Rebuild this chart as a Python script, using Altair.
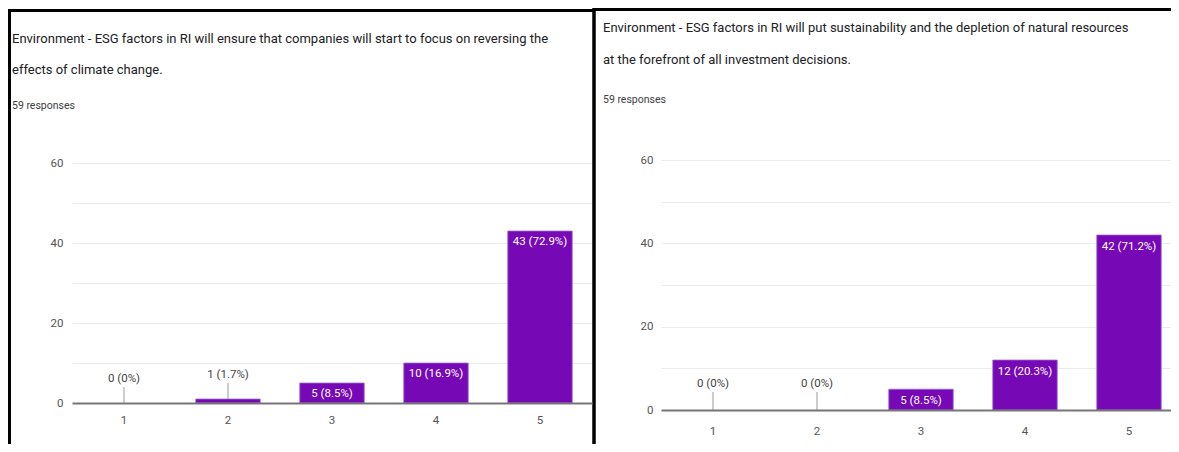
import altair as alt
import pandas as pd

# ---------------- data ----------------
categories = ["1", "2", "3", "4", "5"]

left_counts = [0, 1, 5, 10, 43]
left_labels = ["0 (0%)", "1 (1.7%)", "5 (8.5%)", "10 (16.9%)", "43 (72.9%)"]
left_title = [
    "Environment - ESG factors in RI will ensure that companies will start to focus on reversing the",
    "effects of climate change.",
]

right_counts = [0, 0, 5, 12, 42]
right_labels = ["0 (0%)", "0 (0%)", "5 (8.5%)", "12 (20.3%)", "42 (71.2%)"]
right_title = [
    "Environment - ESG factors in RI will put sustainability and the depletion of natural resources",
    "at the forefront of all investment decisions.",
]

responses_text = "59 responses"
y_tick_values = [0, 10, 20, 30, 40, 50, 60]
y_domain = [0, 60]

# ---------------- style ----------------
W, H = 1163, 436
PURPLE = "#7608b6"
NARROW = "Liberation Sans Narrow, Roboto, sans-serif"
SANS = "Roboto, sans-serif"


def make_panel(counts, labels, x_range, y_range, x_off, y_off, x_pad, y_pad, in_dy, out_dy, lead):
    df = pd.DataFrame({"answer": categories, "count": counts, "label": labels})
    x_enc = alt.X(
        "answer:N",
        sort=categories,
        scale=alt.Scale(domain=categories, range=x_range, paddingInner=0.38, paddingOuter=0.19),
        axis=alt.Axis(
            orient="bottom", offset=x_off, title=None, labelAngle=0, ticks=False, grid=False,
            domainColor="#767676", domainWidth=2, labelFont=NARROW, labelFontSize=11.5,
            labelColor="#555555", labelPadding=x_pad, zindex=1,
        ),
    )
    y_enc = alt.Y(
        "count:Q",
        scale=alt.Scale(domain=y_domain, range=y_range, nice=False, zero=True),
        axis=alt.Axis(
            orient="left", offset=y_off, title=None, values=y_tick_values,
            labelExpr="datum.value % 20 == 0 ? datum.label : ''",
            ticks=False, domain=False, grid=True, gridColor="#ebebeb", gridWidth=1,
            labelFont=NARROW, labelFontSize=11.5, labelColor="#555555", labelPadding=y_pad,
        ),
    )
    xs = alt.X("answer:N", sort=categories)
    ys = alt.Y("count:Q")
    base = alt.Chart(df)
    bars = (
        base.mark_bar(color=PURPLE, stroke="#a06cd5", strokeWidth=0.8)
        .encode(x=x_enc, y=y_enc)
        .transform_filter("datum.count > 0")
    )
    leaders = (
        base.mark_rule(color="#9a9a9a", strokeWidth=1, y2Offset=-lead)
        .encode(x=xs, y=ys, y2=alt.Y2("count"))
        .transform_filter("datum.count < 3")
    )
    text_in = (
        base.mark_text(dy=in_dy, baseline="middle", font=NARROW, fontSize=11.5, color="white")
        .encode(x=xs, y=ys, text="label:N")
        .transform_filter("datum.count >= 3")
    )
    text_out = (
        base.mark_text(dy=out_dy, baseline="middle", font=NARROW, fontSize=11.5, color="#444444")
        .encode(x=xs, y=ys, text="label:N")
        .transform_filter("datum.count < 3")
    )
    return alt.layer(bars, leaders, text_in, text_out)


left_panel = make_panel(left_counts, left_labels, [64, 584], [395, 155], -41, -64, 11, 9, 11, -24, 16)
right_panel = make_panel(right_counts, right_labels, [653, 1173], [402, 152], -34, -653, 15, 8, 12, -26, 18)

one = alt.Data(values=[{}])


def title_text(lines, x, y, lh):
    return alt.Chart(one).mark_text(
        text=lines, align="left", baseline="middle", font=SANS, fontSize=13,
        lineHeight=lh, color="#202124",
    ).encode(x=alt.value(x), y=alt.value(y))


def sub_text(txt, x, y):
    return alt.Chart(one).mark_text(
        text=txt, align="left", baseline="middle", font=SANS, fontSize=10.5, color="#3c4043",
    ).encode(x=alt.value(x), y=alt.value(y))


def border(x1, x2, y1, y2, w=3):
    return alt.Chart(one).mark_rule(color="black", strokeWidth=w).encode(
        x=alt.value(x1), x2=alt.value(x2), y=alt.value(y1), y2=alt.value(y2)
    )


decos = [
    title_text(left_title, 4, 31, 31),
    sub_text(responses_text, 4, 98),
    title_text(right_title, 595, 20, 32),
    sub_text(responses_text, 595, 92),
    border(1.5, 1.5, 2, H),
    border(0, 586, 2.5, 2.5),
    border(586, 586, 0, H, 3.5),
    border(586, W, 1.5, 1.5),
]

chart = (
    alt.layer(left_panel, right_panel, *decos)
    .resolve_scale(x="independent", y="independent")
    .properties(width=W, height=H, autosize=alt.AutoSizeParams(type="none"), padding=0)
    .configure_view(stroke=None)
)

chart.save("out.html", embed_options={"renderer": "svg", "actions": False})
